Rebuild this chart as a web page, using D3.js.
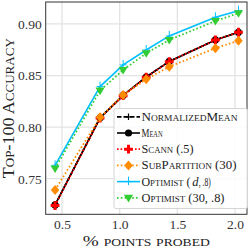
<!DOCTYPE html>
<html><head><meta charset="utf-8">
<script src="https://cdn.jsdelivr.net/npm/d3@7"></script>
<style>
html,body{margin:0;padding:0;background:#fff;}
svg{display:block;}
text{font-family:"Liberation Serif","DejaVu Serif",serif;}
</style></head>
<body><svg id="c" width="249" height="249"></svg>
<script>
const xValues = [0.44, 0.83, 1.03, 1.23, 1.43, 1.83, 2.03];
const normalizedMean = [0.7246, 0.8090, 0.8307, 0.8486, 0.8637, 0.8845, 0.8920];
const mean           = [0.7246, 0.8090, 0.8307, 0.8486, 0.8637, 0.8845, 0.8920];
const scann          = [0.7240, 0.8088, 0.8305, 0.8484, 0.8635, 0.8845, 0.8920];
const subPartition   = [0.7391, 0.8096, 0.8312, 0.8464, 0.8586, 0.8765, 0.8838];
const optimistD      = [0.7630, 0.8393, 0.8603, 0.8748, 0.8884, 0.9065, 0.9129];
const optimist30     = [0.7600, 0.8354, 0.8554, 0.8716, 0.8845, 0.9029, 0.9104];
const xTicks = [0.5, 1.0, 1.5, 2.0];
const yTicks = [0.75, 0.80, 0.85, 0.90];
const seriesNames = ["NormalizedMean", "Mean", "Scann (.5)", "SubPartition (30)", "Optimist (d, .8)", "Optimist (30, .8)"];

const svg = d3.select("#c");
const L = 45.7, R = 247, T = 2, B = 214.3;
const x = d3.scaleLinear().domain([0.3587, 2.104]).range([L, R]);
const y = d3.scaleLinear().domain([0.7155, 0.9213]).range([B, T]);

// grid
const g = svg.append("g");
g.selectAll(".gx").data(xTicks).enter().append("line")
  .attr("x1", d => x(d)).attr("x2", d => x(d)).attr("y1", T).attr("y2", B)
  .attr("stroke", "#e3e3e3").attr("stroke-width", 1.3);
g.selectAll(".gy").data(yTicks).enter().append("line")
  .attr("y1", d => y(d)).attr("y2", d => y(d)).attr("x1", L).attr("x2", R)
  .attr("stroke", "#e3e3e3").attr("stroke-width", 1.3);

// axes (no tick marks)
const xAxis = d3.axisBottom(x).tickValues(xTicks).tickFormat(d3.format(".1f")).tickSize(0).tickPadding(5.5);
const yAxis = d3.axisLeft(y).tickValues(yTicks).tickFormat(d3.format(".2f")).tickSize(0).tickPadding(4);
const gx = svg.append("g").attr("transform", `translate(0,${B})`).call(xAxis);
const gy = svg.append("g").attr("transform", `translate(${L},0)`).call(yAxis);
[gx, gy].forEach(a => {
  a.select(".domain").remove();
  a.selectAll("text").attr("font-size", 13.5).attr("fill", "#333").attr("font-family", "Liberation Serif, serif");
});

const series = [
  {name: seriesNames[0], vals: normalizedMean, color: "#000", dash: "4.5,2", width: 1.7, marker: "plus"},
  {name: seriesNames[1], vals: mean, color: "#000", dash: null, width: 1.6, marker: "circle"},
  {name: seriesNames[2], vals: scann, color: "#ff0000", dash: "1.6,2", width: 1.8, marker: "P"},
  {name: seriesNames[3], vals: subPartition, color: "#ff8c00", dash: "1.6,2.2", width: 1.8, marker: "diamond"},
  {name: seriesNames[4], vals: optimistD, color: "#00bfff", dash: null, width: 1.6, marker: "thinplus"},
  {name: seriesNames[5], vals: optimist30, color: "#32cd32", dash: "1.6,2.2", width: 1.8, marker: "tri"}
];
const legendWidths = [96, 21, 52, 95, 69, 83];

function drawMarker(sel, type, color, cx, cy, scale) {
  scale = scale || 1;
  if (type === "circle") {
    sel.append("circle").attr("cx", cx).attr("cy", cy).attr("r", 3.6 * scale).attr("fill", color);
  } else if (type === "plus") {
    const s = 3.2 * scale;
    sel.append("path").attr("d", `M${cx - s},${cy}H${cx + s}M${cx},${cy - s}V${cy + s}`)
      .attr("stroke", color).attr("stroke-width", 1.2).attr("fill", "none");
  } else if (type === "thinplus") {
    const s = 3.5 * scale;
    sel.append("path").attr("d", `M${cx - s},${cy}H${cx + s}M${cx},${cy - s - 1.5}V${cy + s}`)
      .attr("stroke", color).attr("stroke-width", 1).attr("fill", "none");
  } else if (type === "P") {
    const a = 1.5 * scale, b = 4.4 * scale;
    sel.append("path").attr("d",
      `M${cx - a},${cy - b}H${cx + a}V${cy - a}H${cx + b}V${cy + a}H${cx + a}V${cy + b}H${cx - a}V${cy + a}H${cx - b}V${cy - a}H${cx - a}Z`)
      .attr("fill", color);
  } else if (type === "diamond") {
    const s = 5 * scale;
    sel.append("path").attr("d", `M${cx},${cy - s}L${cx + s * 0.85},${cy}L${cx},${cy + s}L${cx - s * 0.85},${cy}Z`).attr("fill", color);
  } else if (type === "tri") {
    const s = 4.6 * scale;
    sel.append("path").attr("d", `M${cx - s},${cy - s * 0.65}L${cx + s},${cy - s * 0.65}L${cx},${cy + s}Z`).attr("fill", color);
  }
}

const line = d3.line().x(d => x(d[0])).y(d => y(d[1]));
const plot = svg.append("g");
series.forEach(s => {
  const pts = xValues.map((xv, i) => [xv, s.vals[i]]);
  plot.append("path").datum(pts).attr("d", line).attr("fill", "none")
    .attr("stroke", s.color).attr("stroke-width", s.width)
    .attr("stroke-dasharray", s.dash);
  pts.forEach(p => drawMarker(plot, s.marker, s.color, x(p[0]), y(p[1])));
});

// frame
svg.append("rect").attr("x", L).attr("y", T).attr("width", R - L).attr("height", B - T)
  .attr("fill", "none").attr("stroke", "#333").attr("stroke-width", 1);

// legend
const lg = svg.append("g");
const lx = 114, ly = 108.5, lw = 133.5, lh = 100;
lg.append("rect").attr("x", lx).attr("y", ly).attr("width", lw).attr("height", lh)
  .attr("rx", 2).attr("fill", "rgba(255,255,255,0.85)").attr("stroke", "#d5d5d5").attr("stroke-width", 1);
function legendText(xp, yp, str, w, italic) {
  const t = lg.append("text").attr("x", xp).attr("y", yp)
    .attr("font-size", 12.5).attr("fill", "#222").text(str);
  if (italic) t.attr("font-style", "italic");
  else t.style("font-variant", "small-caps");
  if (w) t.attr("textLength", w).attr("lengthAdjust", "spacingAndGlyphs");
  return t;
}
series.forEach((s, i) => {
  const cy = 116.8 + i * 16.2;
  lg.append("line").attr("x1", 117).attr("x2", 140).attr("y1", cy).attr("y2", cy)
    .attr("stroke", s.color).attr("stroke-width", s.width).attr("stroke-dasharray", s.dash);
  drawMarker(lg, s.marker, s.color, 128.5, cy);
  if (i === 4) {
    const parts = s.name.split("d, ");
    legendText(141.5, cy + 4, parts[0], 49, false);
    legendText(192.3, cy + 4, "d", null, true);
    legendText(198.7, cy + 4, ", " + parts[1], 12, false);
  } else {
    legendText(141.5, cy + 4, s.name, legendWidths[i], false);
  }
});

// axis labels
svg.append("text").attr("transform", `translate(14,${(T + B) / 2}) rotate(-90)`)
  .attr("text-anchor", "middle").attr("font-size", 16.5).attr("fill", "#222")
  .attr("textLength", 140).attr("lengthAdjust", "spacingAndGlyphs")
  .style("font-variant", "small-caps").text("Top-100 Accuracy");
svg.append("text").attr("x", (L + R) / 2).attr("y", 245.5)
  .attr("text-anchor", "middle").attr("font-size", 15.5).attr("fill", "#222")
  .attr("textLength", 127).attr("lengthAdjust", "spacingAndGlyphs")
  .style("font-variant", "small-caps").text("% points probed");
</script></body></html>
